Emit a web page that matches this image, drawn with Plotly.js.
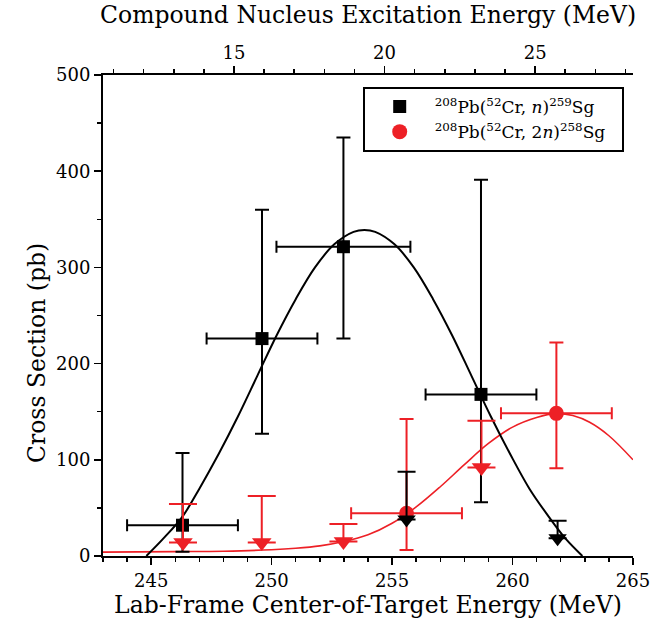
<!DOCTYPE html>
<html><head><meta charset="utf-8">
<script src="https://cdn.plot.ly/plotly-3.0.1.min.js"></script>
<style>html,body{margin:0;padding:0;background:#fff}#chart{width:668px;height:626px}</style>
</head><body><div id="chart"></div>
<script>
// 208Pb(52Cr, n)259Sg measured cross sections
const n1Energy = [246.3, 249.6, 252.98, 258.69];
const n1Sigma = [32, 226, 321.5, 168];
const n1SigmaUp = [107, 360, 435, 391];
const n1SigmaLow = [4.5, 127, 226, 56];
const n1EnergyErr = [2.3, 2.3, 2.78, 2.3];
// 1n upper limits
const n1LimEnergy = [255.6, 261.87];
const n1LimSigma = [38, 18.5];
const n1LimCap = [87.6, 36.7];
// 208Pb(52Cr, 2n)258Sg measured cross sections
const n2Energy = [255.6, 261.82];
const n2Sigma = [44.4, 148.3];
const n2SigmaUp = [142.4, 222];
const n2SigmaLow = [6.2, 91.2];
const n2EnergyErr = [2.3, 2.3];
// 2n upper limits
const n2LimEnergy = [246.32, 249.59, 252.98, 258.71];
const n2LimSigma = [14, 14, 15, 92];
const n2LimCap = [54, 62.4, 33.3, 140.6];
// fitted excitation functions
const n1FitEnergy = [244.8, 245.5, 246.3, 247.0, 247.8, 248.6, 249.4, 250.2, 251.0, 251.8, 252.6, 253.4, 253.85, 254.3, 255.1, 255.9, 256.7, 257.5, 258.3, 259.1, 259.9, 260.7, 261.5, 262.2, 262.9];
const n1FitSigma = [0, 18, 41, 70, 106, 145, 187, 229, 267, 300, 324, 337, 339, 337, 324, 300, 267, 229, 187, 145, 106, 70, 41, 18, 0];
const n2FitEnergy = [243, 246, 248, 250, 251, 252, 253, 254, 255, 256, 257, 258, 259, 260, 261, 261.8, 262.5, 263.2, 264.0, 265];
const n2FitSigma = [4, 4.5, 5, 6.5, 8, 10.5, 15, 22, 34, 51, 72, 95, 117, 134, 144, 148, 146, 139, 125, 100];
// axis settings
const labRange = [243, 265];
const sigmaRange = [0, 500];
const exTickVals = [15, 20, 25];
const exRange = [10.65, 28.25];

const RED = 'rgb(237,32,38)';
const FONT = 'DejaVu Serif';
const sub = (a, b) => a.map((v, i) => v - b[i]);

const traces = [
  {x: n2FitEnergy, y: n2FitSigma, mode: 'lines', line: {color: RED, width: 1.6, shape: 'spline', smoothing: 1}, showlegend: false, hoverinfo: 'skip'},
  {x: n1FitEnergy, y: n1FitSigma, mode: 'lines', line: {color: 'black', width: 2, shape: 'spline', smoothing: 1}, showlegend: false, hoverinfo: 'skip'},
  {x: n1Energy, y: n1Sigma, mode: 'markers', name: '<sup>208</sup>Pb(<sup>52</sup>Cr, <i>n</i>)<sup>259</sup>Sg&nbsp;&nbsp;',
   marker: {symbol: 'square', size: 13, color: 'black'},
   error_y: {type: 'data', symmetric: false, array: sub(n1SigmaUp, n1Sigma), arrayminus: sub(n1Sigma, n1SigmaLow), color: 'black', thickness: 2, width: 7},
   error_x: {type: 'data', array: n1EnergyErr, color: 'black', thickness: 2, width: 6}},
  {x: n2Energy, y: n2Sigma, mode: 'markers', name: '<sup>208</sup>Pb(<sup>52</sup>Cr, 2<i>n</i>)<sup>258</sup>Sg&nbsp;&nbsp;',
   marker: {symbol: 'circle', size: 15, color: RED},
   error_y: {type: 'data', symmetric: false, array: sub(n2SigmaUp, n2Sigma), arrayminus: sub(n2Sigma, n2SigmaLow), color: RED, thickness: 2, width: 7},
   error_x: {type: 'data', array: n2EnergyErr, color: RED, thickness: 2, width: 6}},
  {x: n1LimEnergy, y: n1LimSigma, mode: 'markers', showlegend: false,
   marker: {symbol: 'triangle-down', size: 16, color: 'black'},
   error_y: {type: 'data', symmetric: false, array: sub(n1LimCap, n1LimSigma), arrayminus: [0, 0], color: 'black', thickness: 2, width: 9}},
  {x: n2LimEnergy, y: n2LimSigma, mode: 'markers', showlegend: false,
   marker: {symbol: 'triangle-down', size: 17, color: RED},
   error_y: {type: 'data', symmetric: false, array: sub(n2LimCap, n2LimSigma), arrayminus: [0, 0, 0, 0], color: RED, thickness: 2, width: 14}},
  {x: [exRange[0]], y: [-100], xaxis: 'x2', yaxis: 'y', mode: 'markers', marker: {opacity: 0}, showlegend: false, hoverinfo: 'skip'}
];

const layout = {
  width: 668, height: 626,
  margin: {l: 103, r: 35, t: 75, b: 70},
  paper_bgcolor: 'white', plot_bgcolor: 'white',
  font: {family: FONT, color: 'black', size: 18},
  showlegend: true,
  legend: {x: 0.49, y: 0.975, xanchor: 'left', yanchor: 'top', bgcolor: 'white', bordercolor: 'black', borderwidth: 2,
           itemwidth: 60, font: {family: FONT, size: 17}},
  xaxis: {range: labRange, dtick: 5, tick0: 0, ticks: 'outside', ticklen: 7, tickwidth: 1.5, tickcolor: 'black',
          minor: {dtick: 1, ticks: 'outside', ticklen: 4, tickwidth: 1.5, tickcolor: 'black'},
          showline: true, linewidth: 2, linecolor: 'black', showgrid: false, zeroline: false, mirror: false,
          tickfont: {family: FONT, size: 18},
          title: {text: 'Lab-Frame Center-of-Target Energy (MeV)', font: {family: FONT, size: 23.5}, standoff: 6}},
  xaxis2: {overlaying: 'x', side: 'top', anchor: 'y', range: exRange, tickvals: exTickVals, ticks: 'outside', ticklen: 7, tickwidth: 1.5, tickcolor: 'black',
           minor: {dtick: 1, ticks: 'outside', ticklen: 4, tickwidth: 1.5, tickcolor: 'black'},
           showline: true, linewidth: 2, linecolor: 'black', showgrid: false, zeroline: false,
           tickfont: {family: FONT, size: 18}},
  yaxis: {range: sigmaRange, dtick: 100, ticks: 'outside', ticklen: 7, tickwidth: 1.5, tickcolor: 'black',
          minor: {dtick: 50, ticks: 'outside', ticklen: 4, tickwidth: 1.5, tickcolor: 'black'},
          showline: true, linewidth: 2, linecolor: 'black', showgrid: false, zeroline: false, mirror: false,
          tickfont: {family: FONT, size: 18}},
  yaxis2: {overlaying: 'y', side: 'right', anchor: 'x', range: sigmaRange, dtick: 50, ticks: 'inside', ticklen: 6, tickwidth: 1.5, tickcolor: 'black',
           showticklabels: false, showline: true, linewidth: 2, linecolor: 'black', showgrid: false, zeroline: false},
  annotations: [
    {text: 'Cross Section (pb)', xref: 'paper', yref: 'paper', x: -0.1245, y: 0.422, xanchor: 'center', yanchor: 'middle',
     textangle: -90, showarrow: false, font: {family: FONT, size: 23.5, color: 'black'}},
    {text: 'Compound Nucleus Excitation Energy (MeV)', xref: 'paper', yref: 'paper', x: 0.5, y: 1.1247, xanchor: 'center', yanchor: 'middle',
     showarrow: false, font: {family: FONT, size: 23.5, color: 'black'}}
  ]
};

Plotly.newPlot('chart', traces, layout, {displayModeBar: false, staticPlot: true});
</script>
</body></html>
